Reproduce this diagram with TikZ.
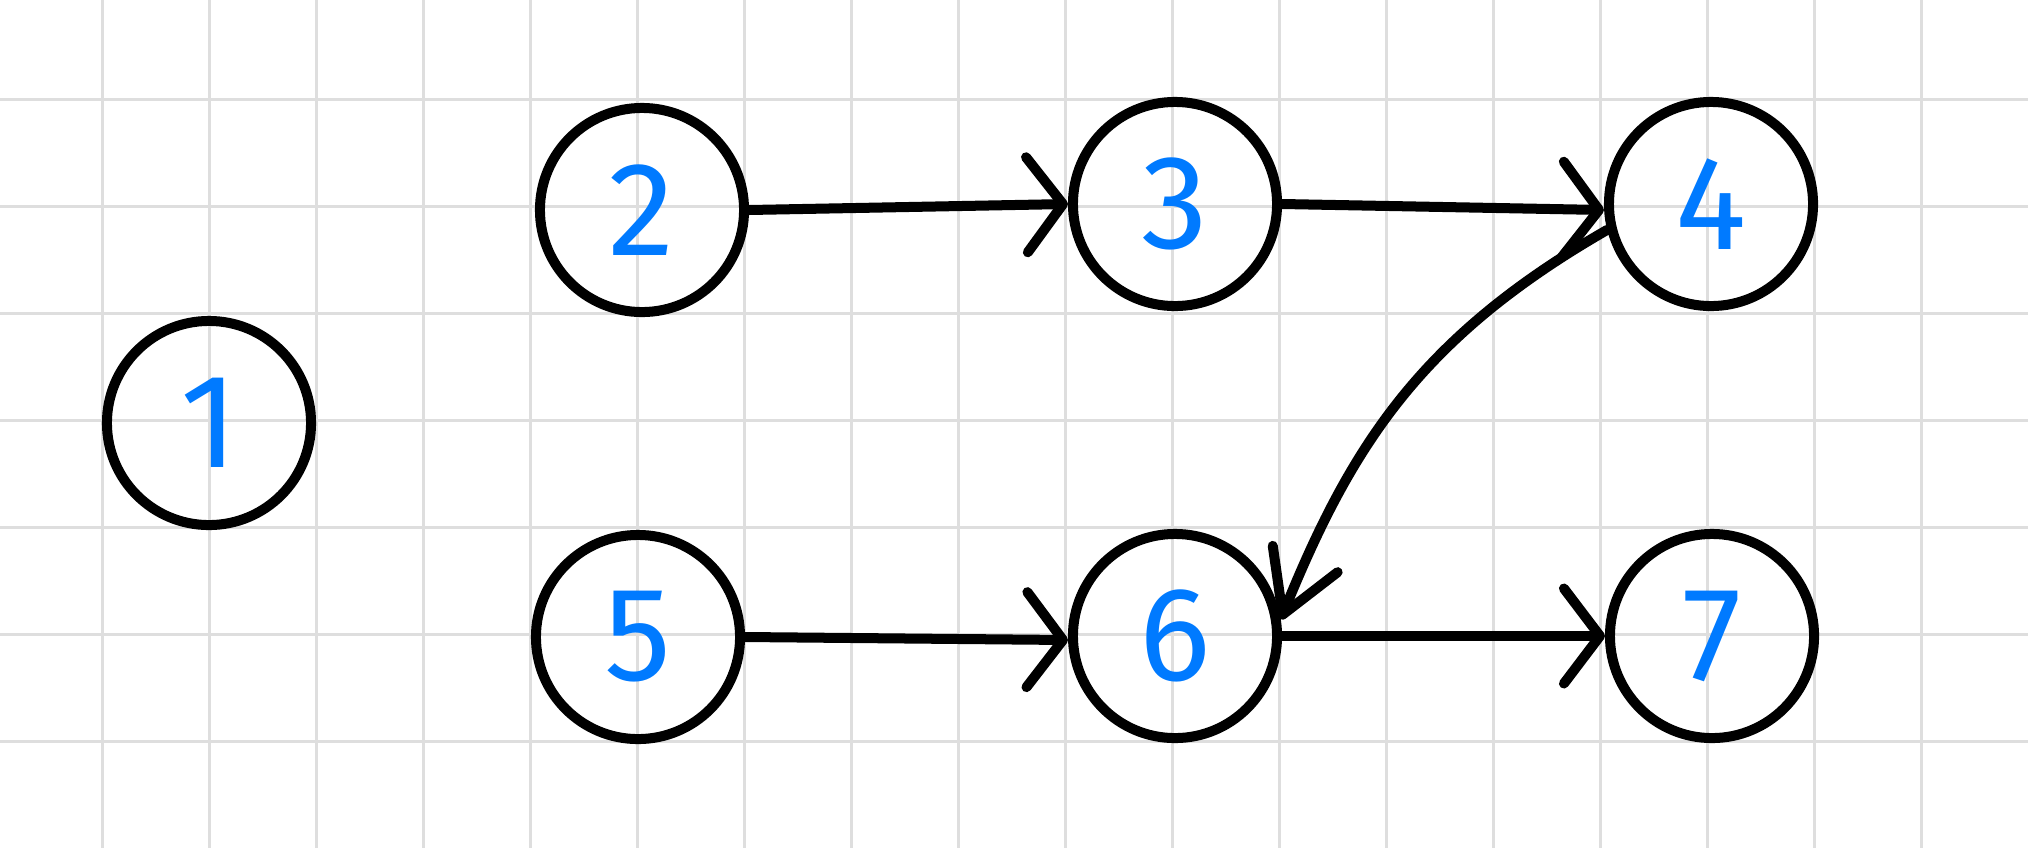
\documentclass[tikz,border=0pt]{standalone}
\usepackage{fontspec}
\setmainfont{Fira Sans}
\usetikzlibrary{arrows.meta}
\definecolor{digitblue}{RGB}{0,122,255}
\definecolor{gridgray}{RGB}{222,222,222}
\begin{document}
\begin{tikzpicture}[x=0.01cm,y=-0.01cm,
  vertex/.style={circle, draw=black, line width=0.1cm, minimum size=2.04cm, inner sep=0pt,
    text=digitblue, font=\fontsize{38}{38}\selectfont},
  edge/.style={line width=0.1cm, line cap=round, line join=round,
    -{Straight Barb[length=0.36cm,width=0.95cm,round]}},
  narrowtip/.style={-{Straight Barb[length=0.6cm,width=0.7cm,round]}},
  gridline/.style={gridgray, line width=0.03cm}]
\useasboundingbox (0,0) rectangle (2028,848);
\fill[white] (0,0) rectangle (2028,848);
\foreach \i in {0,...,17} \draw[gridline] (102+107*\i,0) -- (102+107*\i,848);
\foreach \j in {0,...,6} \draw[gridline] (0,99+107*\j) -- (2028,99+107*\j);

\node[vertex] (n1) at (209,423) {1};
\node[vertex] (n2) at (642,210) {2};
\node[vertex] (n3) at (1175,204) {3};
\node[vertex] (n4) at (1711,204) {4};
\node[vertex] (n5) at (638,637) {5};
\node[vertex] (n6) at (1175,636) {6};
\node[vertex] (n7) at (1712,636) {7};

\draw[edge] (n2.east) -- (n3.west);
\draw[edge] (n3.east) -- ([yshift=-0.06cm]n4.west);
\draw[edge, narrowtip] (n4.194) .. controls +(-186,107) and +(71,-175) .. (n6.9);
\draw[edge] (n5.east) -- ([yshift=-0.04cm]n6.west);
\draw[edge] (n6.east) -- (n7.west);
\end{tikzpicture}
\end{document}
